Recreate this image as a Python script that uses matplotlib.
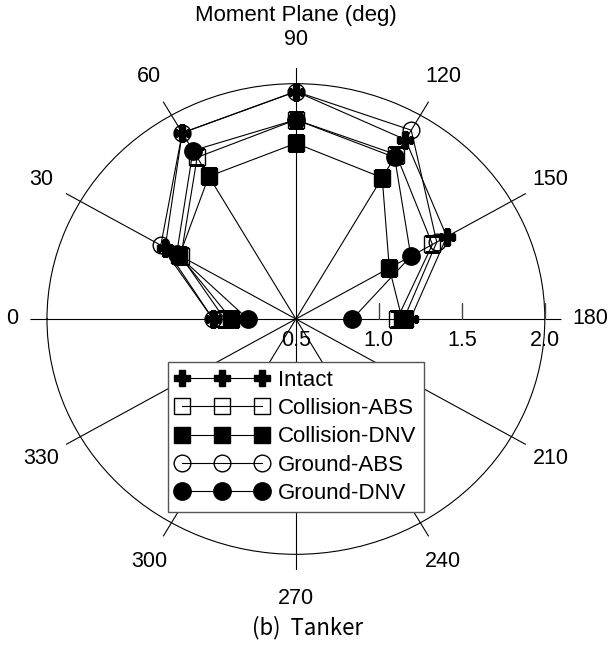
import numpy as np
import matplotlib
matplotlib.use("Agg")
import matplotlib.pyplot as plt

plt.rcParams['font.family'] = ['Liberation Sans', 'DejaVu Sans']

# moment plane angles (deg) and ratio values
angles = [0, 30, 60, 90, 120, 150, 180]
intact = [1.00, 1.41, 1.87, 1.95, 1.82, 1.55, 1.19]
collision_abs = [0.93, 1.30, 1.69, 1.77, 1.71, 1.45, 1.11]
collision_dnv = [0.89, 1.31, 1.55, 1.62, 1.54, 1.15, 1.14]
ground_abs = [1.00, 1.44, 1.87, 1.95, 1.89, 1.48, 1.15]
ground_dnv = [0.79, 1.33, 1.74, 1.77, 1.69, 1.30, 0.84]

r_ticks = [0.5, 1.0, 1.5, 2.0]
theta_labels = [str(a) for a in range(0, 360, 30)]

fig = plt.figure(figsize=(6.12, 6.45), dpi=100)
ax = fig.add_axes([30.4 / 612, 75 / 645, 531 / 612, 502 / 645], projection='polar')
ax.set_aspect('auto')
ax.set_theta_zero_location('W')
ax.set_theta_direction(-1)
ax.set_ylim(0.5, 2.1)
ax.spines['polar'].set_visible(False)
ax.patch.set_visible(False)

# the "0" label sits closer to its spoke, so it is drawn separately
ax.set_thetagrids(range(0, 360, 30), labels=[''] + theta_labels[1:], fontsize=15.5)
ax.tick_params(axis='x', pad=10)
ax.annotate(theta_labels[0], xy=(0, 2.1), xytext=(-9, 0), textcoords='offset points',
            ha='right', va='center', fontsize=15.5)
ax.set_rgrids([2.0], labels=[''])
ax.grid(True, color='black', lw=0.8)

th = np.deg2rad(angles)
ax.plot(th, intact, color='black', lw=0.8, marker='P', ms=12, mfc='black',
        mec='black', label='Intact', zorder=3)
ax.plot(th, collision_abs, color='black', lw=0.8, marker='s', ms=11.5, mfc='none',
        mec='black', mew=1.0, label='Collision-ABS', zorder=3)
ax.plot(th, collision_dnv, color='black', lw=0.8, marker='s', ms=12, mfc='black',
        mec='black', label='Collision-DNV', zorder=3)
ax.plot(th, ground_abs, color='black', lw=0.8, marker='o', ms=12, mfc='none',
        mec='black', mew=1.0, label='Ground-ABS', zorder=3)
ax.plot(th, ground_dnv, color='black', lw=0.8, marker='o', ms=12.5, mfc='black',
        mec='black', label='Ground-DNV', zorder=3)

# radial scale along the 180 deg ray
ax.plot(np.full(3, np.pi), r_ticks[1:], ls='none', marker=[(0, 0), (0, 1)],
        ms=23, mew=1.0, color='#444444', zorder=2)
for r in r_ticks:
    ax.annotate(f"{r:.1f}", xy=(np.pi, r), xytext=(0, -8), textcoords='offset points',
                ha='center', va='top', fontsize=15.5)

leg = ax.legend(loc='upper left', bbox_to_anchor=(168 / 612, 1 - 362 / 645),
                bbox_transform=fig.transFigure, borderaxespad=0, numpoints=3,
                handlelength=4.2, handletextpad=0.4, labelspacing=0.33,
                borderpad=0.35, fontsize=16, fancybox=False, framealpha=1,
                edgecolor='#555555')
leg.get_frame().set_linewidth(1.0)

fig.text(296 / 612, 1 - 16 / 645, 'Moment Plane (deg)', ha='center', va='center',
         fontsize=16)
fig.text(307 / 612, 1 - 628 / 645, '(b)  Tanker', ha='center', va='center',
         fontsize=16, family=['Noto Sans CJK KR', 'DejaVu Sans'])

fig.savefig('out.png', dpi=100)
